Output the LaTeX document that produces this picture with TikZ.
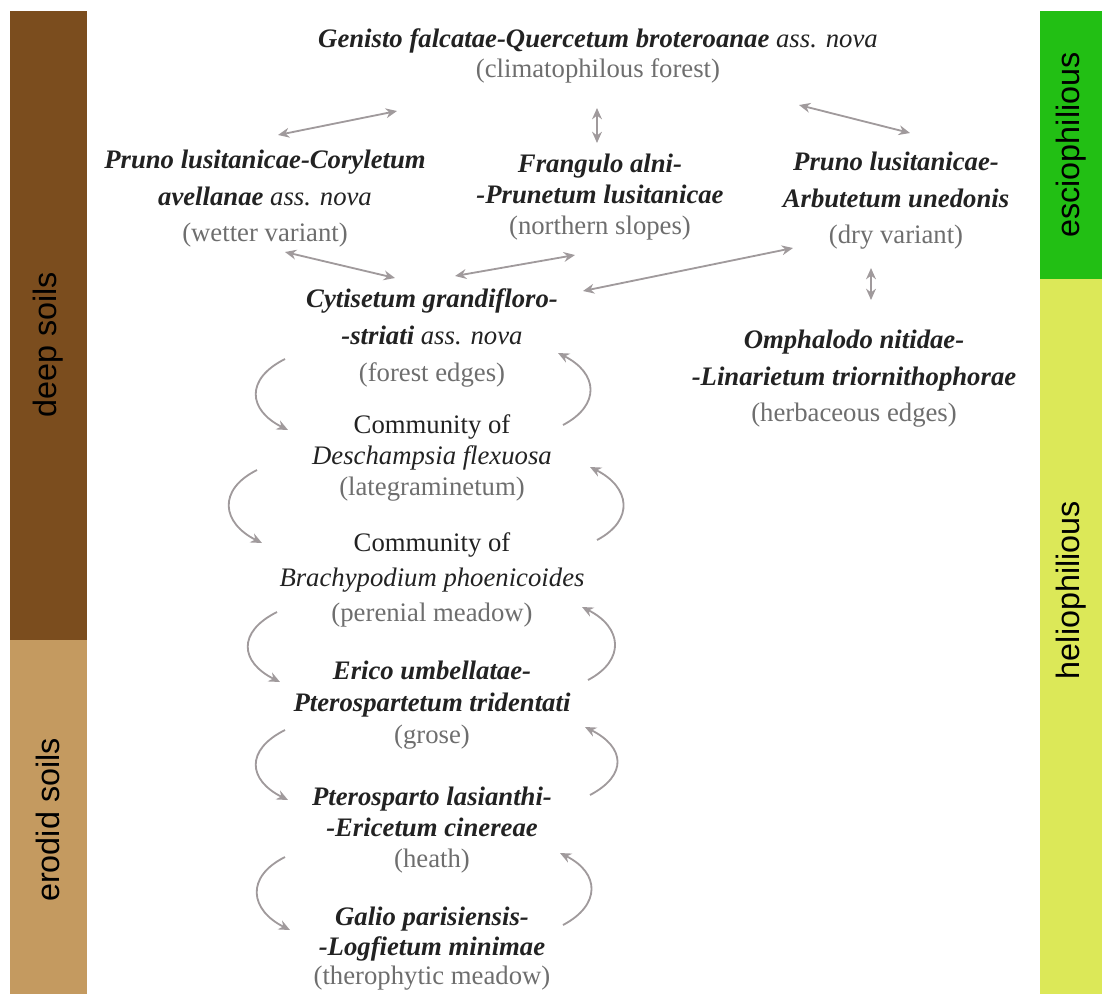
\documentclass[tikz,border=0pt]{standalone}
\usepackage{fontspec}
\setmainfont{Liberation Serif}
\setsansfont{Liberation Sans}
\usetikzlibrary{arrows.meta,calc}

\definecolor{deepbrown}{HTML}{7B4D1E}
\definecolor{erodtan}{HTML}{C49A60}
\definecolor{sciogreen}{HTML}{22BF14}
\definecolor{heliogreen}{HTML}{DCE858}
\definecolor{arrowgrey}{HTML}{A09A9C}
\definecolor{notegrey}{HTML}{6E6E6E}
\definecolor{namegrey}{HTML}{222222}

\newcommand{\syn}[1]{\textbf{\textit{#1}}}
\newcommand{\habitat}[1]{{\color{notegrey}#1}}

\begin{document}
\begin{tikzpicture}[x=0.025cm,y=-0.025cm,
    stage/.style={align=center,inner sep=0pt,text=namegrey,font=\fontsize{19}{#1}\selectfont},
    stage/.default=24,
    side/.style={rotate=90,inner sep=0pt,font=\sffamily\fontsize{23}{23}\selectfont},
    link/.style={arrowgrey,line width=1.3pt,{Stealth[length=8pt,width=7pt]}-{Stealth[length=8pt,width=7pt]}},
    turn/.style={arrowgrey,line width=1.3pt,-{Stealth[length=8pt,width=7pt]}}]
    \useasboundingbox (0,0) rectangle (1108,994);
    % Bandes latérales
    \fill[deepbrown] (10,11) rectangle (87,640);
    \fill[erodtan] (10,640) rectangle (87,994);
    \fill[sciogreen] (1040,11) rectangle (1102,279);
    \fill[heliogreen] (1040,279) rectangle (1102,994);
    \node[side] (deep) at (48,345) {deep soils};
    \node[side] (erod) at (48,820) {erodid soils};
    \node[side] (scio) at (1071,145) {esciophilious};
    \node[side] (helio) at (1071,590) {heliophilious};

    % Groupements
    \node[stage=21] (top) at (598,56) {\syn{Genisto falcatae-Quercetum broteroanae} \textit{ass. nova}\\\habitat{(climatophilous forest)}};
    \node[stage=26] (coryl) at (265,199) {\syn{Pruno lusitanicae-Coryletum}\\\syn{avellanae} \textit{ass. nova}\\\habitat{(wetter variant)}};
    \node[stage=22] (frang) at (600,197) {\syn{Frangulo alni-}\\\syn{-Prunetum lusitanicae}\\\habitat{(northern slopes)}};
    \node[stage=26] (arbut) at (896,201) {\syn{Pruno lusitanicae-}\\\syn{Arbutetum unedonis}\\\habitat{(dry variant)}};
    \node[stage=26] (cyt) at (432,338) {\syn{Cytisetum grandifloro-}\\\syn{-striati} \textit{ass. nova}\\\habitat{(forest edges)}};
    \node[stage=26] (omph) at (854,379) {\syn{Omphalodo nitidae-}\\\syn{-Linarietum triornithophorae}\\\habitat{(herbaceous edges)}};
    \node[stage=22] (desch) at (432,458) {Community of\\\textit{Deschampsia flexuosa}\\\habitat{(lategraminetum)}};
    \node[stage=25] (brach) at (432,580) {Community of\\\textit{Brachypodium phoenicoides}\\\habitat{(perenial meadow)}};
    \node[stage=23] (erico) at (432,705) {\syn{Erico umbellatae-}\\\syn{Pterospartetum tridentati}\\\habitat{(grose)}};
    \node[stage=22] (ptero) at (432,830) {\syn{Pterosparto lasianthi-}\\\syn{-Ericetum cinereae}\\\habitat{(heath)}};
    \node[stage=21] (galio) at (432,949) {\syn{Galio parisiensis-}\\\syn{-Logfietum minimae}\\\habitat{(therophytic meadow)}};

    % Contacts
    \draw[link] ($(coryl)+(13,-64)$) -- ($(top)+(-201,55)$);
    \draw[link] ($(top)+(-1,52)$) -- ($(frang)+(-3,-54)$);
    \draw[link] ($(top)+(201,49)$) -- ($(arbut)+(14,-68)$);
    \draw[link] ($(coryl)+(20,53)$) -- ($(cyt)+(-37,-60)$);
    \draw[link] ($(cyt)+(23,-62)$) -- ($(frang)+(-25,58)$);
    \draw[link] ($(cyt)+(151,-47)$) -- ($(arbut)+(-103,47)$);
    \draw[link] ($(arbut)+(-25,67)$) -- ($(omph)+(17,-79)$);

    % Dynamique : régression (gauche) et progression (droite)
    \draw[turn] ($(cyt)+(-147,21)$) .. controls +(-40,20) and +(-40,-20) .. ($(desch)+(-144,-28)$);
    \draw[turn] ($(desch)+(-175,12)$) .. controls +(-40,20) and +(-40,-20) .. ($(brach)+(-170,-37)$);
    \draw[turn] ($(brach)+(-155,32)$) .. controls +(-40,20) and +(-40,-20) .. ($(erico)+(-152,-23)$);
    \draw[turn] ($(erico)+(-147,25)$) .. controls +(-40,20) and +(-40,-20) .. ($(ptero)+(-144,-30)$);
    \draw[turn] ($(ptero)+(-147,27)$) .. controls +(-40,20) and +(-40,-20) .. ($(galio)+(-142,-19)$);
    \draw[turn] ($(desch)+(131,-33)$) .. controls +(38,-20) and +(40,20) .. ($(cyt)+(126,15)$);
    \draw[turn] ($(brach)+(165,-40)$) .. controls +(38,-20) and +(40,20) .. ($(desch)+(158,9)$);
    \draw[turn] ($(erico)+(156,-25)$) .. controls +(38,-20) and +(40,20) .. ($(brach)+(150,27)$);
    \draw[turn] ($(ptero)+(158,-35)$) .. controls +(38,-20) and +(40,20) .. ($(erico)+(153,22)$);
    \draw[turn] ($(galio)+(131,-24)$) .. controls +(38,-20) and +(40,20) .. ($(ptero)+(128,23)$);
\end{tikzpicture}
\end{document}
